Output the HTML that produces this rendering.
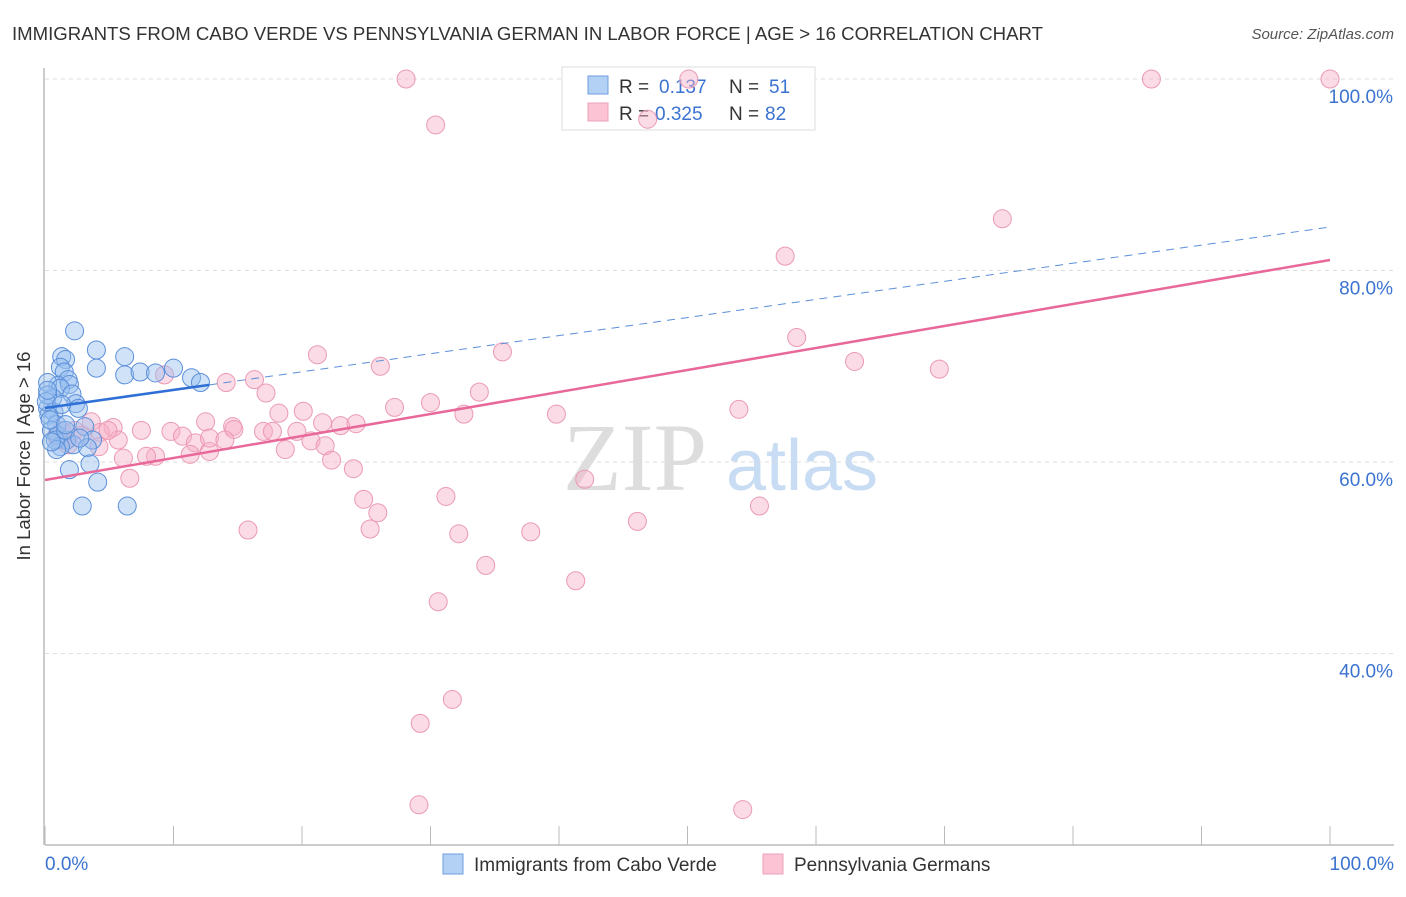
<!DOCTYPE html>
<html><head><meta charset="utf-8"><style>
body{margin:0;background:#fff;font-family:"Liberation Sans",sans-serif}
svg text{font-family:"Liberation Sans",sans-serif}
</style></head><body>
<svg width="1406" height="892" viewBox="0 0 1406 892" id="chart">
<text x="12" y="40" font-size="18.6" fill="#333">IMMIGRANTS FROM CABO VERDE VS PENNSYLVANIA GERMAN IN LABOR FORCE | AGE &gt; 16 CORRELATION CHART</text>
<text x="1394" y="39" font-size="15" fill="#555" font-style="italic" text-anchor="end">Source: ZipAtlas.com</text>
<text x="30" y="456" font-size="18.5" fill="#333" text-anchor="middle" transform="rotate(-90 30 456)">In Labor Force | Age &gt; 16</text>
<g>
<text x="635" y="490" font-size="96" fill="#ddd" text-anchor="middle" font-family="Liberation Serif" style="font-family:'Liberation Serif',serif">ZIP</text>
<text x="802" y="490" font-size="72" fill="#c8dcf3" text-anchor="middle">atlas</text>
</g>
<g id="grid"></g><g id="axes"></g>
<g>
<rect x="562" y="67" width="253" height="63" fill="#fff" stroke="#ddd"/>
<rect x="588" y="76" width="20" height="18" fill="#b3d0f5" stroke="#6d9de0"/>
<rect x="588" y="103" width="20" height="18" fill="#fbc3d3" stroke="#eea0b8"/>
<text x="619" y="93" font-size="19" fill="#333">R = </text><text x="659" y="93" font-size="19" fill="#3b73d1">0.137</text>
<text x="729" y="93" font-size="19" fill="#333">N = </text><text x="769" y="93" font-size="19" fill="#3b73d1">51</text>
<text x="619" y="120" font-size="19" fill="#333">R = </text><text x="655" y="120" font-size="19" fill="#3b73d1">0.325</text>
<text x="729" y="120" font-size="19" fill="#333">N = </text><text x="765" y="120" font-size="19" fill="#3b73d1">82</text>
</g>
<g id="pts"></g><g id="trends"></g>
<g>
<rect x="443" y="854" width="20" height="20" fill="#b3d0f5" stroke="#6d9de0"/>
<text x="474" y="871" font-size="19" fill="#333">Immigrants from Cabo Verde</text>
<rect x="763" y="854" width="20" height="20" fill="#fbc3d3" stroke="#eea0b8"/>
<text x="794" y="871" font-size="19" fill="#333">Pennsylvania Germans</text>
</g>
</svg>
<script>
const blueX=[2.3,1.3,1.6,4.0,6.2,4.0,1.2,1.5,1.8,6.2,7.4,8.6,10.0,11.4,12.1,1.0,0.2,1.9,1.2,0.6,2.1,2.4,2.6,0.2,0.7,0.3,0.9,0.5,1.0,1.7,3.1,3.7,2.2,1.2,3.3,3.5,1.9,4.1,2.9,6.4,0.2,0.4,0.8,0.1,1.3,1.6,2.7,0.9,0.5,0.2,1.6];
const blueY=[73.7,71.0,70.7,71.7,71.0,69.8,69.9,69.4,68.6,69.1,69.4,69.3,69.8,68.8,68.3,68.0,68.3,68.1,67.7,66.7,67.1,66.1,65.6,65.6,65.2,64.9,63.9,63.3,62.8,62.3,63.7,62.3,61.8,61.6,61.5,59.8,59.2,57.9,55.4,55.4,67.0,64.4,62.3,66.3,66.0,63.3,62.5,61.3,62.1,67.5,63.9];
const pinkX=[28.1,86.1,100,50.1,30.4,46.9,74.5,57.6,58.5,21.2,26.1,35.6,63.0,69.6,9.3,14.1,16.3,17.2,33.8,27.2,30.0,32.6,39.8,54.0,18.2,20.1,3.6,5.3,12.5,14.6,14.7,17.0,17.7,19.6,23.0,24.2,9.8,10.7,11.7,12.8,8.6,7.9,5.7,6.1,11.3,18.7,20.7,21.8,22.3,24.0,6.6,1.3,2.3,4.3,4.9,2.9,1.2,24.8,31.2,42.0,25.9,25.3,15.8,32.2,37.8,46.1,55.6,34.3,41.3,30.6,31.7,29.2,29.1,54.3,7.5,1.8,0.9,12.8,14.0,21.6,4.2,1.6];
const pinkY=[100,100,100,100,95.2,95.8,85.4,81.5,73.0,71.2,70.0,71.5,70.5,69.7,69.1,68.3,68.6,67.2,67.3,65.7,66.2,65.0,65.0,65.5,65.1,65.3,64.2,63.6,64.2,63.7,63.4,63.2,63.2,63.2,63.8,64.0,63.2,62.7,62.0,61.1,60.6,60.6,62.3,60.4,60.8,61.3,62.2,61.7,60.2,59.3,58.3,63.3,63.3,63.1,63.3,62.8,62.3,56.1,56.4,58.2,54.7,53.0,52.9,52.5,52.7,53.8,55.4,49.2,47.6,45.4,35.2,32.7,24.2,23.7,63.3,61.8,62.7,62.5,62.3,64.1,61.6,62.3];
const yTicks=[100,80,60,40];
const yTickLabels=["100.0%","80.0%","60.0%","40.0%"];
const xTickLabels=["0.0%","100.0%"];
const blueTrend=[65.64,84.54];
const pinkTrend=[58.12,81.1];
const blueSolidEnd=12.8;

const NS="http://www.w3.org/2000/svg";
const X=v=>45+v*12.85;
const Y=v=>79+(100-v)*9.575;
function mk(tag,attrs,parent){const e=document.createElementNS(NS,tag);for(const k in attrs)e.setAttribute(k,attrs[k]);document.getElementById(parent).appendChild(e);return e;}
yTicks.forEach((t,i)=>{
  const g=mk('line',{x1:45,x2:1394,y1:Y(t),y2:Y(t),stroke:'#ddd','stroke-dasharray':'4,4'},'grid');
  
  
  const tx=mk('text',{x:1393,y:Y(t)+24,'font-size':19,fill:'#3b73d1','text-anchor':'end'},'grid');
  tx.textContent=yTickLabels[i];
  
  
});
const ax=mk('line',{x1:45,x2:1394,y1:845,y2:845,stroke:'#bbb','stroke-width':1.5},'axes');


const ay=mk('line',{x1:44,x2:44,y1:68,y2:845,stroke:'#bbb','stroke-width':1.5},'axes');


for(let i=0;i<=10;i++){
  const tk=mk('line',{x1:X(i*10),x2:X(i*10),y1:826,y2:845,stroke:'#bbb'},'axes');
  
  
}
[[0,'start',45],[100,'end',1394]].forEach((p,i)=>{
  const t=mk('text',{x:p[2],y:870,'font-size':19,fill:'#3b73d1','text-anchor':p[1]},'axes');
  t.textContent=xTickLabels[i];
  
  
});
pinkX.forEach((x,i)=>{
  const c=mk('circle',{cx:X(x),cy:Y(pinkY[i]),r:9,fill:'rgba(247,175,198,0.45)',stroke:'#eb9ab4','stroke-width':1},'pts');
  
  
});
blueX.forEach((x,i)=>{
  const c=mk('circle',{cx:X(x),cy:Y(blueY[i]),r:9,fill:'rgba(150,190,240,0.45)',stroke:'#5b8fd9','stroke-width':1},'pts');
  
  
});
const by=x=>blueTrend[0]+(blueTrend[1]-blueTrend[0])*x/100;
const bl=mk('line',{x1:X(0),y1:Y(by(0)),x2:X(blueSolidEnd),y2:Y(by(blueSolidEnd)),stroke:'#2f6fd6','stroke-width':2.5},'trends');


const bd=mk('line',{x1:X(blueSolidEnd),y1:Y(by(blueSolidEnd)),x2:X(100),y2:Y(by(100)),stroke:'#5b8fd9','stroke-width':1,'stroke-dasharray':'8,6'},'trends');


const pl=mk('line',{x1:X(0),y1:Y(pinkTrend[0]),x2:X(100),y2:Y(pinkTrend[1]),stroke:'#e8689a','stroke-width':2.5},'trends');


</script>
</body></html>
